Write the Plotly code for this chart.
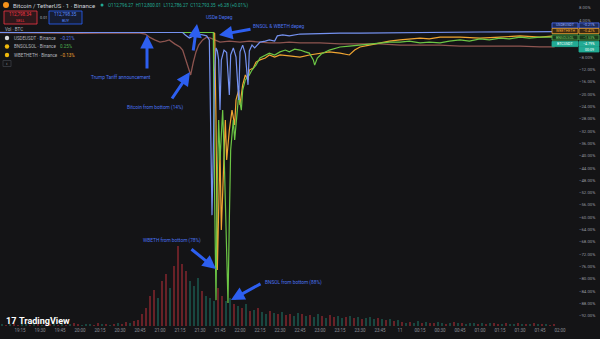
import plotly.graph_objects as go
from datetime import datetime, timedelta

# ---------------- data ----------------
btc_t = ["19:00","19:30","20:00","20:30","20:45","20:49","20:52","20:56","21:00","21:04","21:07","21:11",
         "21:15","21:17","21:19","21:21","21:23","21:25","21:27","21:29","21:32","21:35","21:38","21:41",
         "21:45","21:52","22:00","22:07","22:15","22:22","22:30","22:37","22:45","23:00","23:15","23:30",
         "23:45","00:00","00:15","00:30","00:45","01:00","01:15","01:30","01:45","01:56"]
btc_v = [0.0,-0.16,-0.3,-0.1,-0.2,-0.5,-1.5,-2.4,-3.1,-2.8,-2.4,-3.7,
         -4.7,-5.7,-8.3,-11.5,-13.8,-9.6,-6.3,-4.1,-2.4,-1.5,-1.8,-2.4,
         -3.1,-2.8,-3.1,-2.8,-3.1,-3.4,-3.4,-3.1,-3.4,-3.4,-3.7,-3.7,
         -3.7,-4.1,-4.1,-4.1,-4.4,-4.4,-4.4,-4.4,-4.7,-4.7]

usde_t = ["19:00","20:00","21:00","21:17","21:19","21:22","21:25","21:28","21:32","21:35","21:37","21:38",
          "21:39","21:40","21:41","21:42","21:43","21:44","21:45","21:46","21:48","21:50","21:52","21:53",
          "21:55","21:57","21:59","22:00","22:02","22:04","22:05","22:06","22:07","22:09","22:11","22:15",
          "22:19","22:22","22:26","22:28","22:32","22:37","22:45","23:00","23:15","23:30","00:00","00:30",
          "01:00","01:30","01:56"]
usde_v = [0.0,0.0,0.0,0.0,-0.8,-1.8,-1.1,-0.5,-0.8,-1.1,-2.4,-28.4,
          -59.3,-37.9,-12.0,-5.0,-6.0,-8.9,-25.2,-9.0,-5.7,-6.5,-20.3,-7.3,
          -5.0,-8.0,-21.9,-6.3,-4.1,-7.0,-13.0,-17.0,-6.0,-4.1,-5.0,-3.1,
          -2.8,-2.4,-2.8,-1.1,-0.8,-1.1,-0.5,-0.3,-0.2,-0.2,0.0,0.16,
          0.16,0.2,0.3]

wbeth_t = ["19:00","21:40","21:41","21:42","21:43","21:44","21:45","21:46","21:47","21:48","21:49","21:50",
           "21:52","21:54","21:56","21:57","21:59","22:00","22:02","22:04","22:06","22:07","22:10","22:12",
           "22:15","22:19","22:22","22:26","22:30","22:37","22:45","22:52","23:00","23:07","23:15","23:22",
           "23:26","23:30","23:37","23:45","23:52","00:00","00:07","00:15","00:22","00:30","00:45","01:00",
           "01:15","01:30","01:45","01:56"]
wbeth_v = [0.0,0.0,-0.3,-28.4,-77.1,-54.4,-38.1,-64.1,-51.1,-34.9,-28.4,-41.4,
           -31.7,-25.2,-30.0,-21.9,-18.7,-23.5,-17.0,-13.8,-15.4,-12.2,-11.5,-9.6,
           -8.9,-8.3,-7.3,-8.0,-7.3,-7.6,-8.0,-7.3,-6.7,-6.3,-6.7,-7.3,
           -5.7,-4.7,-4.1,-3.4,-2.8,-2.4,-2.1,-1.8,-2.1,-1.5,-1.5,-1.8,
           -1.5,-1.1,-1.5,-1.1]

bnsol_t = ["19:00","21:40","21:41","21:42","21:43","21:44","21:45","21:47","21:48","21:49","21:50","21:51",
           "21:52","21:53","21:55","21:56","21:58","21:59","22:01","22:02","22:04","22:07","22:09","22:12",
           "22:15","22:19","22:22","22:26","22:30","22:34","22:37","22:41","22:45","22:49","22:52","22:55",
           "22:56","22:58","23:01","23:07","23:15","23:22","23:30","23:37","23:45","23:52","00:00","00:07",
           "00:15","00:22","00:30","00:37","00:45","00:52","01:00","01:07","01:15","01:22","01:30","01:37",
           "01:45","01:56"]
bnsol_v = [0.0,0.0,-54.4,-86.9,-47.9,-28.4,-41.4,-25.2,-38.1,-54.4,-73.9,-87.8,
           -60.9,-38.1,-28.4,-34.9,-25.2,-20.3,-25.2,-18.7,-15.4,-13.8,-12.2,-10.6,
           -8.3,-7.3,-6.7,-7.3,-6.3,-5.7,-6.3,-5.4,-5.7,-6.3,-6.7,-8.9,
           -10.6,-8.3,-7.0,-5.7,-4.7,-4.4,-4.1,-3.7,-3.4,-3.1,-3.1,-2.8,
           -3.4,-3.1,-3.4,-2.8,-2.4,-2.8,-2.1,-2.4,-1.8,-2.1,-1.5,-1.8,
           -1.5,-1.5]

# 3-minute volume bins (BTC) starting 19:00
volume = ([20,10,20,30,10,20,20,10,30,20,10,20,20,30,10,20,10,20,30,20,10,20,20,10,30,20,20,10,20,30,20,40,30,50,60]
          + [120,180,300,360,280]
          + [450,520,380,600,800]
          + [620,550,450]
          + [400,480,350,300,280,250]
          + [380,300,250,280,220]
          + [200,180,220,150,160,180,140,120,150,130,120,140,110,120,100,130]
          + [120,100,110,90,120,100,80,110,90,100,80,90,100,80,90,70,80,90,70,80]
          + [70,60,70,50,60]
          + [40,30,40,30,50,30,40,30,30,40,30,20,30,40,30,30,20,30,30,20,30,20,30,30,20,20,30,20,20,30,20,20,20,30,20,20,20,10,20])
vol_dir = ("grgrrggrgrgrrgrgrgrrgggrrgrgrgrrgrr" + "rrrrg" + "rrgrr" + "rrg" + "ggrggg" + "rrggr"
           + "grgrgrggrgrgrrgg" + "rgrggrgrrggrgrgrgggr" + "grgrg" + "rgrggrgrrggrgrgrgggrgrgrrgrggrgrgrgrgrr")
assert len(volume) == len(vol_dir) == 139, (len(volume), len(vol_dir))

# tick labels at 0% and -4% are hidden behind the last-value labels in the reference
y_ticks = [8,4,-8,-12,-16,-20,-24,-28,-32,-36,-40,-44,-48,-52,-56,-60,-64,-68,-72,-76,-80,-84,-88,-92]

# ---------------- helpers ----------------
def ts(hm):
    h, m = map(int, hm.split(":"))
    day = 10 if h >= 12 else 11
    return datetime(2025, 10, day, h, m)

PW, PH = 578.0, 326.0
def px(x, y):
    return x / PW, 1 - y / PH

BG = "#141416"
FONT = "Roboto"
x0 = datetime(2025, 10, 10, 19, 0)
x1 = x0 + timedelta(minutes=433.5)

fig = go.Figure()

vol_t = [x0 + timedelta(minutes=3 * i + 1.5) for i in range(len(volume))]
vol_c = ["rgba(242,54,69,0.38)" if d == "r" else "rgba(34,171,148,0.34)" for d in vol_dir]
fig.add_trace(go.Bar(x=vol_t, y=volume, marker=dict(color=vol_c, line=dict(width=0)),
                     width=100000, yaxis="y2", showlegend=False, hoverinfo="skip"))

def line(t, v, color, w=1.2):
    fig.add_trace(go.Scatter(x=[ts(s) for s in t], y=v, mode="lines",
                             line=dict(color=color, width=w), showlegend=False, hoverinfo="skip"))

line(btc_t, btc_v, "#8e5550", 1.3)
line(wbeth_t, wbeth_v, "#f0a532")
line(bnsol_t, bnsol_v, "#6cc645")
line(usde_t, usde_v, "#7592f0")

ann = []
shapes = []

def text(x, y, s, color, size=4.5, anchor="left", bold=False):
    xx, yy = px(x, y)
    ann.append(dict(x=xx, y=yy, xref="paper", yref="paper", text=("<b>%s</b>" % s) if bold else s,
                    showarrow=False, xanchor=anchor, yanchor="middle",
                    font=dict(color=color, size=size, family=FONT)))

def arrow(hx, hy, tx, ty, color="#2d5ff0", w=3):
    xx, yy = px(hx, hy)
    ann.append(dict(x=xx, y=yy, xref="paper", yref="paper", text="", showarrow=True,
                    ax=tx - hx, ay=ty - hy, axref="pixel", ayref="pixel",
                    arrowhead=2, arrowsize=0.9, arrowwidth=w, arrowcolor=color))

def rect(xa, ya, xb, yb, line_c, fill):
    a = px(xa, ya); b = px(xb, yb)
    shapes.append(dict(type="rect", xref="paper", yref="paper", x0=a[0], y0=a[1], x1=b[0], y1=b[1],
                       line=dict(color=line_c, width=0.8), fillcolor=fill, layer="above"))

def circle(cx, cy, r, fill):
    a = px(cx - r, cy - r); b = px(cx + r, cy + r)
    shapes.append(dict(type="circle", xref="paper", yref="paper", x0=a[0], y0=a[1], x1=b[0], y1=b[1],
                       line=dict(width=0), fillcolor=fill, layer="above"))

# header
circle(6, 5, 3, "#f7931a")
text(11, 5, "Bitcoin / TetherUS · 1 · Binance", "#d1d4dc", 6)
circle(102, 5, 1.5, "#22ab94")
text(106, 5, "O112,796.27  H112,800.01  L112,786.27  C112,793.35  +6.28 (+0.01%)", "#22ab94", 4.5)
rect(4, 11, 37, 24, "#f23645", "rgba(242,54,69,0.12)")
text(20.5, 15, "112,798.34", "#f23645", 4.5, "center")
text(20.5, 20.5, "SELL", "#f23645", 3.8, "center")
text(43, 17.5, "0.01", "#b2b5be", 3.8, "center")
rect(49, 11, 82, 24, "#2962ff", "rgba(41,98,255,0.12)")
text(65.5, 15, "112,798.35", "#5b8cff", 4.5, "center")
text(65.5, 20.5, "BUY", "#5b8cff", 3.8, "center")
text(3, 29.5, "Vol · BTC", "#b2b5be", 4.5)
circle(7, 38, 2.2, "#d9d9d9")
text(12, 38, "USDEUSDT · Binance", "#b2b5be", 4.5)
text(58, 38, "−0.21%", "#5b7bf0", 4.5)
circle(7, 46.5, 2.2, "#f0b90b")
text(12, 46.5, "BNSOLSOL · Binance", "#b2b5be", 4.5)
text(58, 46.5, "0.25%", "#4caf50", 4.5)
circle(7, 55, 2.2, "#f0b90b")
text(12, 55, "WBETHETH · Binance", "#b2b5be", 4.5)
text(58, 55, "−0.13%", "#f0a532", 4.5)
rect(3, 60.5, 11, 66.5, "#3a3d45", "rgba(0,0,0,0)")
text(7, 63.5, "‹", "#b2b5be", 5, "center")

# annotations
BLUE_T = "#4a72ee"
text(121, 77, "Trump Tariff announcement", BLUE_T, 4.8, "center")
arrow(147, 35, 147, 70)
text(155, 108, "Bitcoin from bottom (14%)", BLUE_T, 4.8, "center")
arrow(190, 72, 171, 100)
text(219, 17, "USDe Depeg", BLUE_T, 4.8, "center")
arrow(197, 24, 193, 52)
text(278, 27, "BNSOL & WBETH depeg", BLUE_T, 4.8, "center")
arrow(219, 35, 252, 29)
text(172, 241, "WBETH from bottom (78%)", BLUE_T, 4.8, "center")
arrow(216, 269, 190, 248)
text(293, 282, "BNSOL from bottom (88%)", BLUE_T, 4.8, "center")
arrow(231, 300, 262, 283)

# right side last-value labels
labels = [("USDEUSDT", "−0.21%", 25.5, "#1d2b5c", "#4a6cf7", "#9fb4ff"),
          ("WBETHETH", "−0.42%", 31, "#3d2a10", "#f0a532", "#f0a532"),
          ("BNSOLSOL", "−1.53%", 37.5, "#1c3a1c", "#4caf50", "#7bd36f"),
          ("BTCUSDT", "−4.79%", 44, "#22ab94", "#22ab94", "#ffffff")]
for name, val, yy, fill, border, tc in labels:
    rect(552, yy - 2.6, 578, yy + 2.6, border, fill)
    text(565, yy, name, tc, 3.6, "center")
    rect(579, yy - 2.6, 599, yy + 2.6, border, fill)
    text(589, yy, val, tc, 3.6, "center")
rect(579, 47, 599, 52, "#22ab94", "#22ab94")
text(589, 49.5, "00:09", "#ffffff", 3.6, "center")

# TradingView logo
text(4, 321, "17", "#ffffff", 9, bold=True)
text(17, 321, "TradingView", "#ffffff", 9, bold=True)

tick_vals = [x0 + timedelta(minutes=15 * i) for i in range(29)]
tick_text = ["11" if (t.hour == 0 and t.minute == 0) else t.strftime("%H:%M") for t in tick_vals]

fig.update_layout(
    width=600, height=339, margin=dict(l=0, r=22, t=0, b=13),
    paper_bgcolor=BG, plot_bgcolor=BG, bargap=0,
    annotations=ann, shapes=shapes,
    xaxis=dict(type="date", range=[x0, x1], showgrid=False, zeroline=False, showline=False,
               tickvals=tick_vals, ticktext=tick_text, tickfont=dict(size=4.5, color="#8a8d96", family=FONT),
               ticks="", automargin=False),
    yaxis=dict(side="right", range=[-95.3, 10.55], showgrid=False, zeroline=False, showline=False,
               tickvals=y_ticks, ticktext=[("−%.2f%%" % -v) if v < 0 else ("%.2f%%" % v) for v in y_ticks],
               tickfont=dict(size=4.3, color="#9598a1", family=FONT), ticks="", automargin=False),
    yaxis2=dict(overlaying="y", range=[0, 3260], visible=False, fixedrange=True),
)

fig.write_html("out.html")
